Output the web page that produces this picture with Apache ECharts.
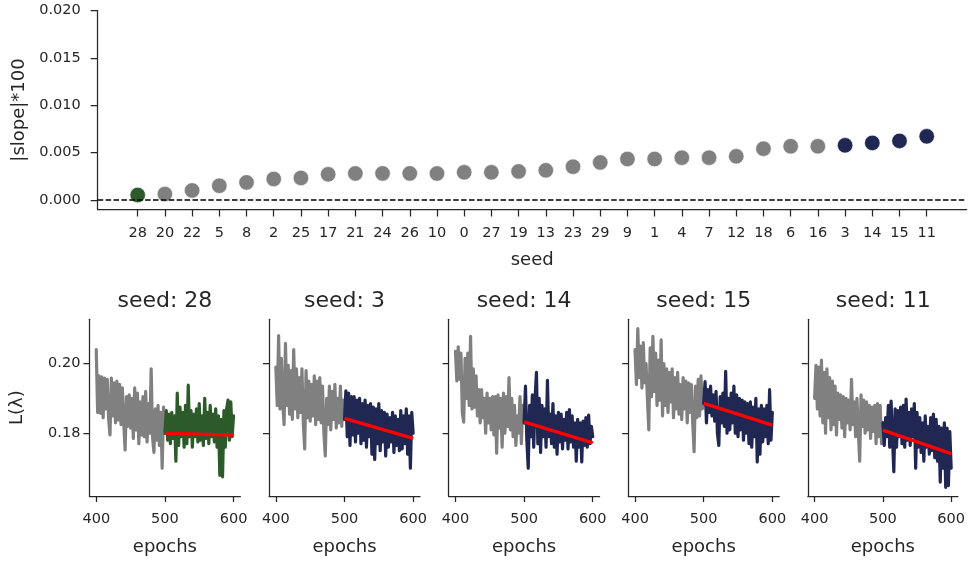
<!DOCTYPE html>
<html>
<head>
<meta charset="utf-8">
<script src="https://cdn.jsdelivr.net/npm/echarts@6/dist/echarts.min.js"></script>
<style>
  html, body { margin: 0; padding: 0; background: #ffffff; }
  #main { width: 968px; height: 561px; }
</style>
</head>
<body>
<div id="main"></div>
<script>
// Seeds ordered by the absolute slope of the late-training loss
const seedOrder = ['28','20','22','5','8','2','25','17','21','24','26','10','0','27','19','13','23','29','9','1','4','7','12','18','6','16','3','14','15','11'];
const slopeX100 = [0.00053,0.00063,0.00101,0.00151,0.00186,0.00222,0.00233,0.00271,0.00281,0.00281,
                   0.00281,0.00280,0.00292,0.00292,0.00302,0.00313,0.00352,0.00397,0.00433,0.00433,
                   0.00447,0.00447,0.00461,0.00542,0.00567,0.00567,0.00577,0.00603,0.00624,0.00672];
const flatSeeds = [28];
const steepSeeds = [3, 14, 15, 11];
const slopeTicks = [0, 0.005, 0.010, 0.015, 0.020];

// Seeds shown in the detail panels
const panelSeeds = [28, 3, 14, 15, 11];
const epochTicks = [400, 500, 600];
const lossTicks = [0.18, 0.20];

// L(lambda) every 2 epochs: epochs 400-500 (before the fit window) and 500-600 (fit window)
const loss28Early = [0.2040,0.1860,0.1965,0.1858,0.1962,0.1845,0.1958,0.1870,0.1955,0.1842,0.1795,0.1958,0.1850,0.1945,0.1830,0.1950,0.1838,0.1940,0.1825,0.1930,0.1830,0.1752,0.1905,0.1820,0.1910,0.1815,0.1900,0.1785,0.1930,0.1810,0.1915,0.1770,0.1890,0.1795,0.1905,0.1790,0.1920,0.1775,0.1885,0.1800,0.1985,0.1790,0.1745,0.1870,0.1780,0.1880,0.1765,0.1860,0.1700,0.1875,0.1800];
const loss28Late  = [0.1800,0.1865,0.1780,0.1855,0.1770,0.1860,0.1785,0.1850,0.1720,0.1915,0.1765,0.1875,0.1790,0.1860,0.1760,0.1880,0.1770,0.1938,0.1790,0.1865,0.1760,0.1855,0.1790,0.1870,0.1775,0.1885,0.1780,0.1850,0.1765,0.1900,0.1785,0.1860,0.1770,0.1880,0.1790,0.1855,0.1775,0.1870,0.1760,0.1850,0.1680,0.1840,0.1675,0.1865,0.1760,0.1870,0.1895,0.1780,0.1890,0.1790,0.1850];

const loss3Early = [0.1990,0.1880,0.2080,0.1870,0.2015,0.1890,0.1825,0.2058,0.1880,0.1995,0.1855,0.1980,0.1840,0.2040,0.1870,0.1985,0.1845,0.1960,0.1860,0.1985,0.1830,0.1755,0.1980,0.1845,0.1950,0.1835,0.1940,0.1850,0.1965,0.1825,0.1950,0.1840,0.1960,0.1830,0.1935,0.1800,0.1735,0.1900,0.1825,0.1935,0.1810,0.1920,0.1840,0.1940,0.1815,0.1900,0.1830,0.1935,0.1820,0.1895,0.1840];
const loss3Late  = [0.1840,0.1922,0.1790,0.1915,0.1765,0.1905,0.1795,0.1905,0.1775,0.1895,0.1800,0.1900,0.1770,0.1885,0.1780,0.1895,0.1760,0.1880,0.1790,0.1885,0.1740,0.1875,0.1725,0.1870,0.1770,0.1885,0.1750,0.1865,0.1775,0.1860,0.1735,0.1855,0.1760,0.1845,0.1775,0.1860,0.1745,0.1850,0.1765,0.1840,0.1750,0.1865,0.1755,0.1850,0.1770,0.1870,0.1740,0.1850,0.1700,0.1860,0.1800];

const loss14Early = [0.2035,0.1950,0.2048,0.1955,0.2030,0.1860,0.1832,0.2015,0.1900,0.2030,0.1880,0.2078,0.1870,0.1985,0.1875,0.1965,0.1850,0.1925,0.1830,0.1925,0.1845,0.1900,0.1800,0.1915,0.1830,0.1900,0.1810,0.1905,0.1795,0.1905,0.1743,0.1910,0.1815,0.1900,0.1760,0.1915,0.1800,0.1905,0.1820,0.1960,0.1810,0.1900,0.1790,0.1880,0.1765,0.1850,0.1800,0.1905,0.1770,0.1880,0.1830];
const loss14Late  = [0.1830,0.1935,0.1780,0.1700,0.1880,0.1790,0.1910,0.1760,0.1900,0.1975,0.1770,0.1900,0.1745,0.1880,0.1790,0.1870,0.1760,0.1952,0.1790,0.1855,0.1770,0.1885,0.1760,0.1850,0.1740,0.1860,0.1775,0.1855,0.1755,0.1840,0.1780,0.1860,0.1755,0.1868,0.1775,0.1850,0.1760,0.1830,0.1720,0.1840,0.1760,0.1830,0.1718,0.1835,0.1765,0.1845,0.1760,0.1852,0.1770,0.1820,0.1790];

const loss15Early = [0.2040,0.1940,0.2100,0.1960,0.2050,0.1930,0.2060,0.1945,0.2000,0.1900,0.1810,0.2045,0.1905,0.2078,0.1920,0.2030,0.1880,0.2010,0.1895,0.2068,0.1850,0.2000,0.1880,0.1985,0.1860,0.1975,0.1890,0.1985,0.1845,0.1960,0.1870,0.1975,0.1855,0.1940,0.1840,0.1960,0.1870,0.1950,0.1830,0.1945,0.1860,0.1940,0.1830,0.1747,0.1935,0.1845,0.1955,0.1850,0.1965,0.1870,0.1885];
const loss15Late  = [0.1885,0.1948,0.1830,0.1925,0.1860,0.1935,0.1850,0.1910,0.1835,0.1920,0.1800,0.1765,0.1905,0.1830,0.1915,0.1820,0.1978,0.1800,0.1900,0.1810,0.1915,0.1830,0.1935,0.1800,0.1910,0.1790,0.1900,0.1810,0.1895,0.1780,0.1890,0.1800,0.1885,0.1770,0.1890,0.1760,0.1875,0.1790,0.1900,0.1718,0.1870,0.1740,0.1880,0.1775,0.1870,0.1790,0.1880,0.1770,0.1925,0.1780,0.1860];

const loss11Early = [0.1900,0.1995,0.1870,0.1990,0.1850,0.2010,0.1830,0.1975,0.1800,0.1985,0.1845,0.1960,0.1810,0.1950,0.1825,0.1935,0.1795,0.1915,0.1840,0.1910,0.1815,0.1905,0.1790,0.1900,0.1830,0.1895,0.1810,0.1955,0.1825,0.1890,0.1790,0.1900,0.1805,0.1720,0.1910,0.1820,0.1895,0.1800,0.1890,0.1810,0.1880,0.1785,0.1875,0.1805,0.1880,0.1770,0.1885,0.1790,0.1880,0.1770,0.1830];
const loss11Late  = [0.1830,0.1765,0.1845,0.1790,0.1880,0.1760,0.1892,0.1790,0.1690,0.1870,0.1760,0.1865,0.1790,0.1875,0.1770,0.1880,0.1760,0.1898,0.1780,0.1860,0.1765,0.1870,0.1790,0.1885,0.1700,0.1860,0.1760,0.1845,0.1745,0.1830,0.1720,0.1850,0.1760,0.1820,0.1740,0.1845,0.1750,0.1855,0.1730,0.1840,0.1720,0.1820,0.1660,0.1815,0.1700,0.1830,0.1645,0.1815,0.1650,0.1805,0.1700];

// Linear fit over epochs 500-600: value at epoch 500
const fitStart = [0.1800, 0.1843, 0.1833, 0.1886, 0.1809];

const earlyLoss = [loss28Early, loss3Early, loss14Early, loss15Early, loss11Early];
const lateLoss  = [loss28Late, loss3Late, loss14Late, loss15Late, loss11Late];

const FONT = 'DejaVu Sans';
const INK = '#262626';
const GRAY = '#808080';
const GREEN = '#2c5a2b';
const NAVY = '#1f2752';
const RED = '#ff0000';

function seedColor(seed) {
  if (flatSeeds.includes(seed)) return GREEN;
  if (steepSeeds.includes(seed)) return NAVY;
  return GRAY;
}

const chart = echarts.init(document.getElementById('main'), null, { renderer: 'canvas' });

const axisLineStyle = { color: INK, width: 1.25 };
const tickLabel = { fontFamily: FONT, fontSize: 14.5, color: INK };
const nameText = { fontFamily: FONT, fontSize: 18, color: INK };

const grids = [{ left: 97.7, top: 10.5, width: 869, height: 199 }];
const xAxes = [];
const yAxes = [];
const series = [];
const titles = [];

// Top: sorted slopes
const seedIdx = seedOrder.map((_, i) => i);
xAxes.push({
  type: 'value', gridIndex: 0, min: -1.47, max: 30.47,
  splitLine: { show: false },
  axisLine: { onZero: false, lineStyle: axisLineStyle },
  axisTick: { customValues: seedIdx, length: 7, lineStyle: axisLineStyle },
  axisLabel: Object.assign({ customValues: seedIdx, margin: 16, formatter: v => seedOrder[Math.round(v)] }, tickLabel),
  name: 'seed', nameLocation: 'middle', nameGap: 42, nameTextStyle: nameText
});
yAxes.push({
  type: 'value', gridIndex: 0, min: -0.001, max: 0.020,
  splitLine: { show: false },
  axisLine: { show: true, onZero: false, lineStyle: axisLineStyle },
  axisTick: { show: true, customValues: slopeTicks, length: 7, lineStyle: axisLineStyle },
  axisLabel: Object.assign({ customValues: slopeTicks, margin: 17, formatter: v => v.toFixed(3) }, tickLabel),
  name: '|slope|*100', nameLocation: 'middle', nameGap: 67, nameRotate: 90, nameTextStyle: nameText
});
series.push({
  type: 'scatter', xAxisIndex: 0, yAxisIndex: 0, symbolSize: 15.5,
  data: seedOrder.map((s, i) => ({
    value: [i, slopeX100[i]],
    itemStyle: { color: seedColor(Number(s)), opacity: 1, borderColor: '#ffffff', borderWidth: 0.6 }
  })),
  markLine: {
    silent: true, symbol: ['none', 'none'], label: { show: false },
    lineStyle: { type: [5.5, 2.4], color: '#000000', width: 1.5 },
    data: [{ yAxis: 0 }]
  },
  z: 3
});

// Bottom: loss curves for selected seeds
panelSeeds.forEach((seed, i) => {
  const g = i + 1;
  const left = 89.4 + 179.6 * i;
  grids.push({ left: left, top: 319.3, width: 151, height: 176.7 });
  titles.push({
    text: 'seed: ' + seed, left: left + 75.5, top: 290, textAlign: 'center', padding: 0,
    textStyle: { fontFamily: FONT, fontSize: 22, fontWeight: 'normal', color: INK }
  });
  xAxes.push({
    type: 'value', gridIndex: g, min: 390, max: 610,
    splitLine: { show: false },
    axisLine: { onZero: false, lineStyle: axisLineStyle },
    axisTick: { customValues: epochTicks, length: 6, lineStyle: axisLineStyle },
    axisLabel: Object.assign({ customValues: epochTicks, margin: 16 }, tickLabel),
    name: 'epochs', nameLocation: 'middle', nameGap: 42, nameTextStyle: nameText
  });
  yAxes.push({
    type: 'value', gridIndex: g, min: 0.162, max: 0.2127,
    splitLine: { show: false },
    axisLine: { show: true, onZero: false, lineStyle: axisLineStyle },
    axisTick: { show: true, customValues: lossTicks, length: 6, lineStyle: axisLineStyle },
    axisLabel: Object.assign({ show: i === 0, customValues: lossTicks, margin: 9, formatter: v => v.toFixed(2) }, tickLabel),
    name: i === 0 ? 'L(λ)' : '', nameLocation: 'middle', nameGap: 63, nameRotate: 90, nameTextStyle: nameText
  });
  const lineBase = { type: 'line', xAxisIndex: g, yAxisIndex: g, showSymbol: false, symbol: 'none', animation: false };
  series.push(Object.assign({}, lineBase, {
    data: earlyLoss[i].map((v, k) => [400 + 2 * k, v]),
    lineStyle: { color: GRAY, width: 3.2, join: 'round', cap: 'round' }, z: 2
  }));
  series.push(Object.assign({}, lineBase, {
    data: lateLoss[i].map((v, k) => [500 + 2 * k, v]),
    lineStyle: { color: seedColor(seed), width: 3.2, join: 'round', cap: 'round' }, z: 3
  }));
  const slope = slopeX100[seedOrder.indexOf(String(seed))];
  series.push(Object.assign({}, lineBase, {
    data: [[500, fitStart[i]], [600, fitStart[i] - slope]],
    lineStyle: { color: RED, width: 3.4 }, z: 4
  }));
});

chart.setOption({
  animation: false,
  backgroundColor: '#ffffff',
  textStyle: { fontFamily: FONT },
  title: titles,
  grid: grids,
  xAxis: xAxes,
  yAxis: yAxes,
  series: series
});
</script>
</body>
</html>
